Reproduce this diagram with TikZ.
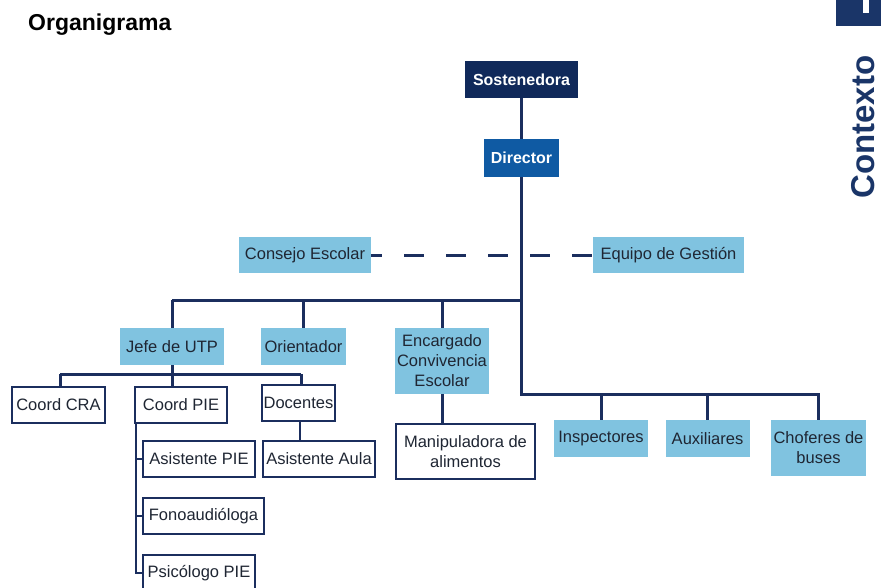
\documentclass[tikz,border=0pt]{standalone}
\usepackage{fontspec}
\setmainfont{Liberation Sans}
\definecolor{navy}{HTML}{10295A}
\definecolor{dirblue}{HTML}{0F5AA3}
\definecolor{lightblue}{HTML}{80C3E0}
\definecolor{linec}{HTML}{1B2E5E}
\definecolor{txt}{HTML}{1F2633}
\definecolor{ctxt}{HTML}{1A3568}
\begin{document}
\begin{tikzpicture}[x=1pt,y=-1pt,
  base/.style={inner sep=0pt,outer sep=0pt,align=center,font=\fontsize{16.5}{20}\selectfont},
  topbox/.style={base,fill=navy,text=white,font=\fontsize{16}{20}\selectfont\bfseries},
  dirbox/.style={base,fill=dirblue,text=white,font=\fontsize{16}{20}\selectfont\bfseries},
  lbbox/.style={base,fill=lightblue,text=txt},
  wbox/.style={base,fill=white,draw=linec,line width=1.8pt,text=txt},
  conn/.style={draw=linec,line width=3pt},
  thin/.style={draw=linec,line width=2pt}]
\useasboundingbox (0,0) rectangle (881,587);
\clip (0,0) rectangle (881,587);
% title and side decoration
\node[anchor=west,inner sep=0pt,font=\fontsize{23}{26}\selectfont\bfseries,text=black] (title) at (28,25) {Organigrama};
\fill[ctxt] (836,0) rectangle (881,26);
\fill[white] (863,0) rectangle (869,13);
\node[rotate=90,inner sep=0pt,font=\fontsize{33}{36}\selectfont\bfseries,text=ctxt] (ctx) at (863,127) {Contexto};
% nodes
\node[topbox,minimum width=113pt,minimum height=37pt] (sost) at (521.5,79.5) {Sostenedora};
\node[dirbox,minimum width=75pt,minimum height=38pt] (dir) at (521.5,158) {Director};
\node[lbbox,minimum width=132pt,minimum height=36pt] (cons) at (305,255) {Consejo Escolar};
\node[lbbox,minimum width=151pt,minimum height=36pt] (equi) at (668.5,255) {Equipo de Gestión};
\node[lbbox,minimum width=104pt,minimum height=37pt] (jefe) at (172,346.5) {Jefe de UTP};
\node[lbbox,minimum width=85pt,minimum height=37pt] (orie) at (303.5,346.5) {Orientador};
\node[lbbox,minimum width=94pt,minimum height=66pt] (enca) at (442,361) {Encargado\\Convivencia\\Escolar};
\node[wbox,minimum width=93pt,minimum height=36pt] (ccra) at (58.5,405) {Coord CRA};
\node[wbox,minimum width=92pt,minimum height=36pt] (cpie) at (181,405) {Coord PIE};
\node[wbox,minimum width=73pt,minimum height=36pt] (doce) at (298.5,403) {Docentes};
\node[wbox,minimum width=112pt,minimum height=36pt] (apie) at (199,459) {Asistente PIE};
\node[wbox,minimum width=112pt,minimum height=36pt] (aaula) at (319,459) {Asistente Aula};
\node[wbox,minimum width=121pt,minimum height=36pt] (fono) at (203.5,516) {Fonoaudióloga};
\node[wbox,minimum width=112pt,minimum height=36pt] (psic) at (199,573) {Psicólogo PIE};
\node[wbox,minimum width=139pt,minimum height=55pt] (mani) at (465.5,451.5) {Manipuladora de\\alimentos};
\node[lbbox,minimum width=94pt,minimum height=37pt] (insp) at (601,438.5) {Inspectores};
\node[lbbox,minimum width=84pt,minimum height=37pt] (auxi) at (707.5,438.5) {Auxiliares};
\node[lbbox,minimum width=95pt,minimum height=56pt] (chof) at (818.5,448) {Choferes de\\buses};
% coordinates
\coordinate (hl) at (172,300);
\coordinate (hr) at (521.5,300);
\coordinate (rl) at (521.5,394);
\coordinate (jl) at (60,374);
\coordinate (jr) at (301,374);
% connectors
\draw[conn] (sost.south) -- (dir.north);
\draw[conn] (dir.south) -- (rl) -| (chof.north);
\draw[conn] (hl) -- (hr);
\draw[conn] (hl) -- (jefe.north);
\draw[conn] (orie.north |- hl) -- (orie.north);
\draw[conn] (enca.north |- hl) -- (enca.north);
\draw[conn] (insp.north |- rl) -- (insp.north);
\draw[conn] (auxi.north |- rl) -- (auxi.north);
\draw[conn,dash pattern=on 20pt off 22pt,dash phase=9pt] (cons.east) -- (equi.west);
\draw[conn] (jefe.south) -- (jefe.south |- cpie.north);
\draw[conn] (jl) -- (jr);
\draw[conn] (jl) -- (jl |- ccra.north);
\draw[conn] (jr) -- (jr |- doce.north);
\draw[conn] (enca.south) -- (enca.south |- mani.north);
\draw[thin] ([xshift=1pt]cpie.south west) |- (psic.west);
\draw[thin] ([xshift=1pt]cpie.south west |- apie.west) -- (apie.west);
\draw[thin] ([xshift=1pt]cpie.south west |- fono.west) -- (fono.west);
\draw[thin] (doce.south) ++(1.5,0) -- ++(0,20);
\end{tikzpicture}
\end{document}
